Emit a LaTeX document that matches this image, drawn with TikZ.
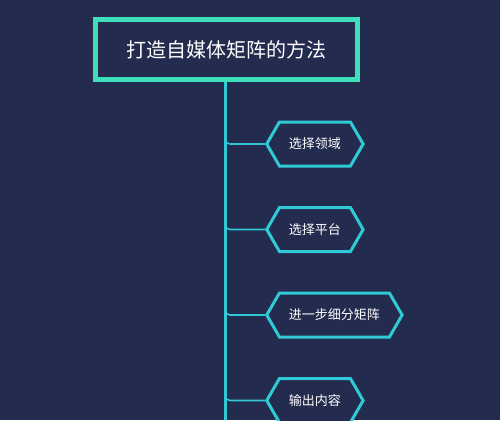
\documentclass[tikz,border=0pt]{standalone}
\usepackage{fontspec}
\newfontfamily\cjk{Noto Sans CJK SC}
\usetikzlibrary{shapes.symbols}
\definecolor{bgnavy}{HTML}{232B4F}
\definecolor{mint}{HTML}{3EE0BC}
\definecolor{cyanline}{HTML}{2FCAD6}
\tikzset{
	titlebox/.style={draw=mint, line width=5pt, fill=bgnavy, text=white, minimum width=262pt, minimum height=60pt, font=\cjk\fontsize{20}{21}\selectfont},
	hexbox/.style={signal, signal to=west and east, signal pointer angle=120, draw=cyanline, line width=3pt, fill=bgnavy, text=white, minimum height=44pt, inner xsep=9.5pt, anchor=west, font=\cjk\fontsize{13}{14}\selectfont},
	branch/.style={cyanline, line width=1.6pt, rounded corners=5pt}
}
\begin{document}
\begin{tikzpicture}[x=1pt, y=-1pt]
			\fill[bgnavy] (0,0) rectangle (500,420);
			\useasboundingbox (0,0) rectangle (500,420);
			\coordinate (bottom) at (225,420);
			\draw[cyanline, line width=3pt] (225,80) -- (bottom);
			\node[titlebox] (title) at (226.5,49.5) {打造自媒体矩阵的方法};
			\node[hexbox] (field) at (265,144) {选择领域};
			\node[hexbox] (platform) at (265,229.5) {选择平台};
			\node[hexbox] (matrix) at (265,315) {进一步细分矩阵};
			\node[hexbox] (content) at (265,400.5) {输出内容};
			\draw[branch] ([yshift=8pt]bottom |- field.west) |- (field.west);
			\draw[branch] ([yshift=8pt]bottom |- platform.west) |- (platform.west);
			\draw[branch] ([yshift=8pt]bottom |- matrix.west) |- (matrix.west);
			\draw[branch] ([yshift=8pt]bottom |- content.west) |- (content.west);
		\end{tikzpicture}
\end{document}
